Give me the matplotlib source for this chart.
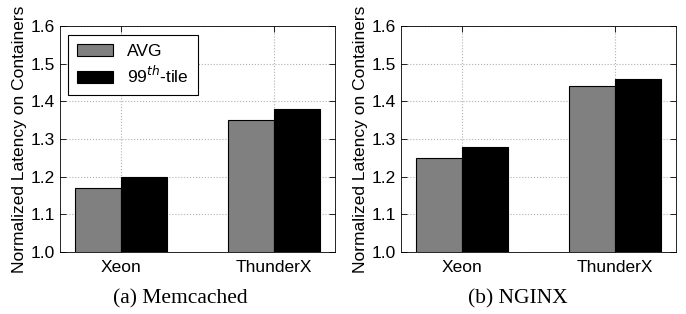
import matplotlib
matplotlib.use("Agg")
import matplotlib.pyplot as plt
import numpy as np

categories = ["Xeon", "ThunderX"]
memcached_avg = [1.17, 1.35]
memcached_p99 = [1.20, 1.38]
nginx_avg = [1.25, 1.44]
nginx_p99 = [1.28, 1.46]
yticks = [1.0, 1.1, 1.2, 1.3, 1.4, 1.5, 1.6]
captions = ["(a) Memcached", "(b) NGINX"]
series_labels = ["AVG", "99$^{th}$-tile"]

plt.rcParams['font.family'] = ['Liberation Sans', 'DejaVu Sans']
plt.rcParams['mathtext.fontset'] = 'dejavusans'

fig = plt.figure(figsize=(6.86, 3.14), dpi=100)
W, H = 686, 314
axes_px = [(60, 26, 335, 252), (401, 26, 676, 252)]
data = [(memcached_avg, memcached_p99), (nginx_avg, nginx_p99)]
caption_x = [180, 518]

x = np.arange(len(categories))
bw = 0.3
for i, ((l, t, r, b), (avg, p99)) in enumerate(zip(axes_px, data)):
    ax = fig.add_axes([l / W, 1 - b / H, (r - l) / W, (b - t) / H])
    ax.bar(x - bw / 2, avg, bw, color='#808080', edgecolor='black', linewidth=0.8, zorder=3, label=series_labels[0])
    ax.bar(x + bw / 2, p99, bw, color='black', edgecolor='black', linewidth=0.8, zorder=3, label=series_labels[1])
    ax.set_xlim(-0.4, 1.4)
    ax.set_ylim(1.0, 1.6)
    ax.set_yticks(yticks)
    ax.set_yticklabels([f"{v:.1f}" for v in yticks])
    ax.set_xticks(x)
    ax.set_xticklabels(categories)
    ax.tick_params(direction='in', top=True, right=True, labelsize=12.5, length=4, width=0.6)
    ax.tick_params(axis='x', pad=6)
    ax.grid(True, linestyle=':', color='#b0b0b0', linewidth=0.8, zorder=0)
    for s in ax.spines.values():
        s.set_linewidth(0.6)
    ax.set_ylabel("Normalized Latency on Containers", fontsize=12.5, labelpad=3)
    if i == 0:
        leg = ax.legend(loc='upper left', fontsize=12.5, fancybox=False, edgecolor='black',
                        framealpha=1, handlelength=2.1, borderpad=0.5, labelspacing=0.35,
                        borderaxespad=0, bbox_to_anchor=(0.03, 0.96))
        leg.get_frame().set_linewidth(0.8)
    fig.text(caption_x[i] / W, 1 - 299 / H, captions[i], ha='center', va='center',
             fontsize=15.5, family=['Liberation Serif', 'DejaVu Serif'])

fig.savefig("out.png", dpi=100)
